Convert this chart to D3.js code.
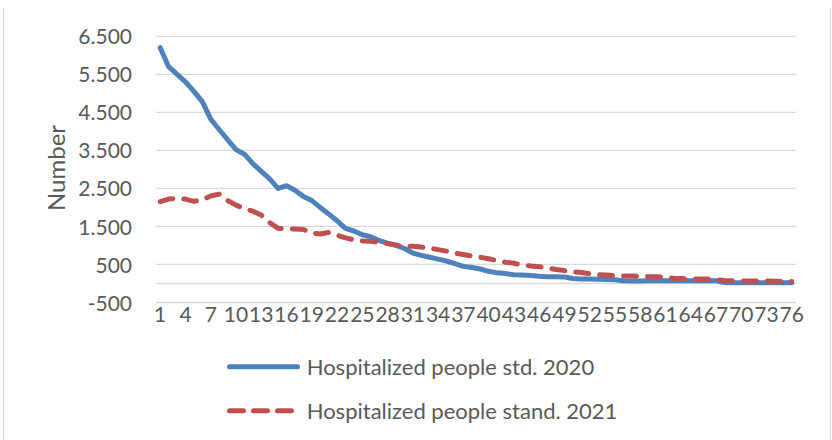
<!DOCTYPE html>
<html>
<head>
<meta charset="utf-8">
<script src="https://cdn.jsdelivr.net/npm/d3@7"></script>
<style>
  html, body { margin: 0; padding: 0; background: #fff; }
  svg { display: block; }
  text { font-family: Lato, "Open Sans", sans-serif; fill: #595959; }
</style>
</head>
<body>
<svg id="chart" width="832" height="440"></svg>
<script>
const categories = d3.range(1, 77);
const seriesNames = ["Hospitalized people std. 2020", "Hospitalized people stand. 2021"];
const values2020 = [6200, 5700, 5500, 5300, 5050, 4780, 4320, 4050, 3780, 3520,
  3400, 3150, 2950, 2750, 2500, 2570, 2450, 2290, 2180, 2000,
  1830, 1650, 1450, 1380, 1280, 1230, 1130, 1060, 1000, 920,
  800, 740, 690, 640, 590, 520, 450, 420, 380, 320,
  280, 260, 230, 220, 210, 190, 180, 180, 170, 130,
  120, 115, 110, 105, 100, 70, 65, 65, 70, 70,
  70, 70, 70, 70, 70, 75, 75, 25, 20, 20,
  20, 20, 20, 20, 20, 20];
const values2021 = [2150, 2220, 2240, 2220, 2160, 2200, 2300, 2350, 2180, 2060,
  1970, 1900, 1800, 1600, 1450, 1440, 1430, 1420, 1330, 1300,
  1340, 1270, 1200, 1150, 1120, 1110, 1080, 1050, 1010, 970,
  980, 960, 930, 890, 850, 800, 760, 720, 690, 650,
  600, 560, 530, 490, 460, 440, 410, 370, 340, 310,
  290, 260, 230, 220, 210, 200, 195, 190, 180, 175,
  160, 140, 130, 120, 120, 120, 100, 80, 70, 68,
  66, 66, 66, 60, 55, 50];
const yTicks = [-500, 500, 1500, 2500, 3500, 4500, 5500, 6500];
const xTickLabels = categories.filter(c => (c - 1) % 3 === 0);
const yTitle = "Number";

const svg = d3.select("#chart");
const colors = ["#4F81BD", "#C0504D"];
const plot = { left: 156, right: 796, top: 36.3, bottom: 302.5 };

// outer frame (left & right edges)
svg.append("line").attr("x1", 3.5).attr("x2", 3.5).attr("y1", 8).attr("y2", 440)
  .attr("stroke", "#D9D9D9").attr("stroke-width", 1);
svg.append("line").attr("x1", 830.5).attr("x2", 830.5).attr("y1", 8).attr("y2", 440)
  .attr("stroke", "#D9D9D9").attr("stroke-width", 1);

const x = d3.scaleBand().domain(categories).range([plot.left, plot.right]).padding(0);
const xc = d => x(d) + x.bandwidth() / 2;
const y = d3.scaleLinear().domain([-500, 6500]).range([plot.bottom, plot.top]);

// gridlines
svg.append("g").selectAll("line").data(yTicks).join("line")
  .attr("x1", plot.left).attr("x2", plot.right)
  .attr("y1", d => y(d)).attr("y2", d => y(d))
  .attr("stroke", "#D9D9D9").attr("stroke-width", 1.3);
// horizontal axis line at 0
svg.append("line").attr("x1", plot.left).attr("x2", plot.right)
  .attr("y1", y(0)).attr("y2", y(0))
  .attr("stroke", "#D9D9D9").attr("stroke-width", 1.3);

// y axis labels
const fmt = v => d3.format(",")(v).replace(/,/g, ".").replace("−", "-");
const yAxis = d3.axisLeft(y).tickValues(yTicks).tickFormat(fmt).tickSize(0).tickPadding(0);
const gy = svg.append("g").attr("transform", "translate(132,0)").call(yAxis);
gy.select(".domain").remove();
gy.selectAll("text").style("font-family", "Lato, 'Open Sans', sans-serif")
  .style("font-size", "21px").attr("fill", "#595959").attr("dy", "0.36em");

// x axis labels
const xAxis = d3.axisBottom(x).tickValues(xTickLabels).tickSize(0).tickPadding(0);
const gx = svg.append("g").attr("transform", "translate(0,305)").call(xAxis);
gx.select(".domain").remove();
gx.selectAll("text").style("font-family", "Lato, 'Open Sans', sans-serif")
  .style("font-size", "21px").attr("fill", "#595959").attr("dy", "0.8em");

// y title
svg.append("text")
  .attr("transform", "translate(65,168) rotate(-90)")
  .attr("text-anchor", "middle")
  .style("font-size", "24px")
  .text(yTitle);

// lines
const line = d3.line().x((d, i) => xc(categories[i])).y(d => y(d));
svg.append("path").datum(values2020).attr("d", line)
  .attr("fill", "none").attr("stroke", colors[0]).attr("stroke-width", 5)
  .attr("stroke-linejoin", "round").attr("stroke-linecap", "round");
svg.append("path").datum(values2021).attr("d", line)
  .attr("fill", "none").attr("stroke", colors[1]).attr("stroke-width", 5)
  .attr("stroke-dasharray", "13,11")
  .attr("stroke-linejoin", "round").attr("stroke-linecap", "round");

// legend
const legendY = [366.7, 410.7];
seriesNames.forEach((name, i) => {
  const g = svg.append("g");
  g.append("line").attr("x1", 229.5).attr("x2", 297.5)
    .attr("y1", legendY[i]).attr("y2", legendY[i])
    .attr("stroke", colors[i]).attr("stroke-width", 5)
    .attr("stroke-linecap", "round")
    .attr("stroke-dasharray", i === 1 ? "14,10" : null);
  g.append("text").attr("x", 306.7).attr("y", legendY[i]).attr("dy", "0.36em")
    .style("font-size", "22px").text(name);
});
</script>
</body>
</html>
